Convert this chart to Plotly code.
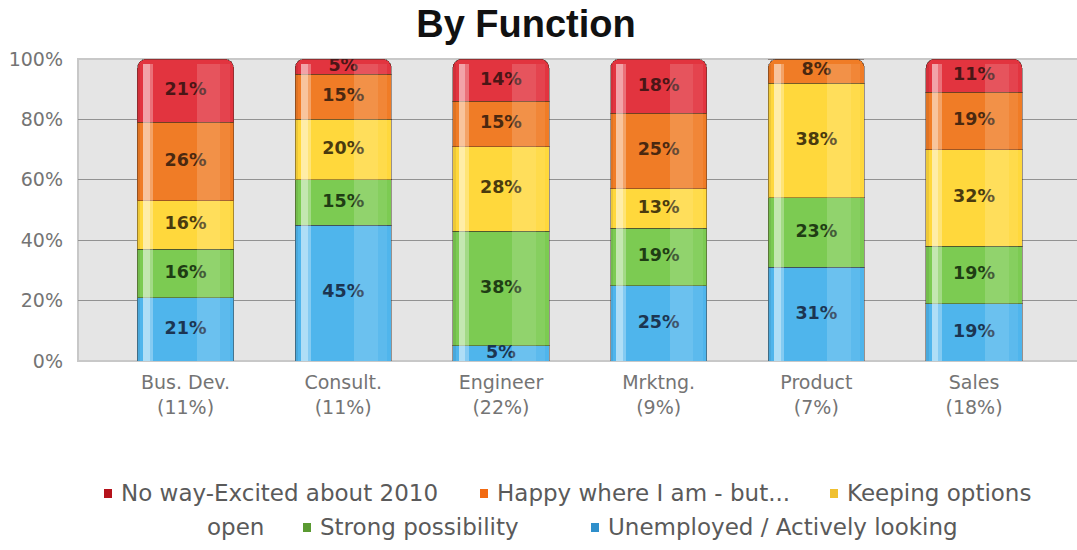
import plotly.graph_objects as go

# Survey results by job function (percent of respondents in each function)
functions = ["Bus. Dev.", "Consult.", "Engineer", "Mrktng.", "Product", "Sales"]
function_share = ["11%", "11%", "22%", "9%", "7%", "18%"]

series_names = [
    "Unemployed / Actively looking",
    "Strong possibility",
    "Keeping options open",
    "Happy where I am - but...",
    "No way-Excited about 2010",
]
unemployed = [21, 45, 5, 25, 31, 19]
strong = [16, 15, 38, 19, 23, 19]
keeping = [16, 20, 28, 13, 38, 32]
happy = [26, 15, 15, 25, 8, 19]
no_way = [21, 5, 14, 18, 0, 11]

series_values = [unemployed, strong, keeping, happy, no_way]
bar_colors = ["#4fb5ec", "#7ccb52", "#ffd83c", "#f07c26", "#e2343f"]
label_colors = ["#1c3552", "#1f3d14", "#4a3a0e", "#4a2810", "#4a1616"]
legend_colors = ["#2f8fcb", "#5a9a32", "#f0c030", "#f26a12", "#b5121b"]

tick_text = [f"{f}<br>({s})" for f, s in zip(functions, function_share)]
x_pos = list(range(len(functions)))
totals = [sum(v[i] for v in series_values) for i in x_pos]

W, H = 1077, 550
left, top, bottom = 78, 59, 189
pw = W - left
ph = H - top - bottom
bar_w = 0.61

fig = go.Figure()

for name, vals, col in zip(series_names, series_values, bar_colors):
    fig.add_trace(go.Bar(
        x=x_pos, y=vals, name=name, width=bar_w,
        marker=dict(color=col, line=dict(color="rgba(60,40,30,0.45)", width=1)),
        hovertemplate="%{y}%<extra>" + name + "</extra>",
    ))

# glossy shading stripes on a twin x-axis; each stripe sits at its own x
# positions so the stripes never stack on one another
stripes = [
    (-0.305, 0.018, "rgba(0,0,0,0.07)"),
    (-0.268, 0.042, "rgba(255,255,255,0.55)"),
    (-0.226, 0.022, "rgba(255,255,255,0.30)"),
    (0.070, 0.150, "rgba(255,255,255,0.16)"),
    (0.220, 0.060, "rgba(255,255,255,0.08)"),
]
for off, w, col in stripes:
    fig.add_trace(go.Bar(
        x=[i + off + w / 2 for i in x_pos], y=[t - 1.5 for t in totals],
        xaxis="x2", width=w,
        marker=dict(color=col, line=dict(width=0), cornerradius=0),
        hoverinfo="skip", showlegend=False,
    ))

# value labels at the middle of each stacked segment
for idx, (vals, lcol) in enumerate(zip(series_values, label_colors)):
    below = [sum(series_values[k][i] for k in range(idx)) for i in x_pos]
    fig.add_trace(go.Scatter(
        x=x_pos, y=[b + v / 2 for b, v in zip(below, vals)],
        mode="text", text=[f"{v}%" if v > 0 else "" for v in vals],
        textposition="middle center",
        textfont=dict(family="DejaVu Sans, Verdana, sans-serif", size=17.5,
                      color=lcol, weight="bold"),
        hoverinfo="skip", showlegend=False,
    ))

# legend rows: (series index or None, text, text left edge px, row centre px)
legend_items = [
    (4, "No way-Excited about 2010", 119, 493),
    (3, "Happy where I am - but...", 495, 493),
    (2, "Keeping options", 845, 493),
    (None, "open", 205, 527),
    (1, "Strong possibility", 318, 527),
    (0, "Unemployed / Actively looking", 606, 527),
]
legend_font = dict(family="DejaVu Sans, Verdana, sans-serif", size=23,
                   color="#5a5a5a")


def px_x(p):
    return (p - left) / pw


def px_y(p):
    return (H - bottom - p) / ph


for idx, txt, x0, yc in legend_items:
    fig.add_annotation(text=txt, x=px_x(x0), y=px_y(yc), xref="paper",
                       yref="paper", showarrow=False, xanchor="left",
                       yanchor="middle", font=legend_font)
    if idx is not None:
        fig.add_shape(type="rect", xref="paper", yref="paper",
                      x0=px_x(x0 - 15), x1=px_x(x0 - 7),
                      y0=px_y(yc + 5), y1=px_y(yc - 4),
                      fillcolor=legend_colors[idx], line=dict(width=0))

x_range = [-0.682, 5.653]
tick_font = dict(family="DejaVu Sans, Verdana, sans-serif", size=19,
                 color="#747474")
fig.update_layout(
    width=W, height=H,
    margin=dict(l=left, r=0, t=top, b=bottom),
    barmode="stack",
    barcornerradius=9,
    showlegend=False,
    paper_bgcolor="white",
    plot_bgcolor="#e5e5e5",
    title=dict(text="<b>By Function</b>", x=526 / W, xanchor="center",
               y=1 - 24 / H, yanchor="middle",
               font=dict(family="Liberation Sans, Arial, sans-serif", size=38,
                         color="#111111")),
    xaxis=dict(range=x_range, tickmode="array", tickvals=x_pos, ticktext=tick_text,
               showgrid=False, zeroline=False, showline=False, ticks="",
               ticklabelstandoff=8, tickfont=tick_font),
    xaxis2=dict(range=x_range, overlaying="x", visible=False),
    yaxis=dict(range=[0, 100], tickvals=[0, 20, 40, 60, 80, 100],
               ticktext=["0%", "20%", "40%", "60%", "80%", "100%"],
               showgrid=True, gridcolor="#929292", gridwidth=1,
               zeroline=False, showline=False, ticks="", ticklabelstandoff=14,
               tickfont=tick_font),
)

# soft frame around the plot area
fig.add_shape(type="rect", xref="paper", yref="paper", x0=0, x1=1.01, y0=0, y1=1,
              line=dict(color="#c8c8c8", width=2), layer="below")

fig.write_html("out.html")
